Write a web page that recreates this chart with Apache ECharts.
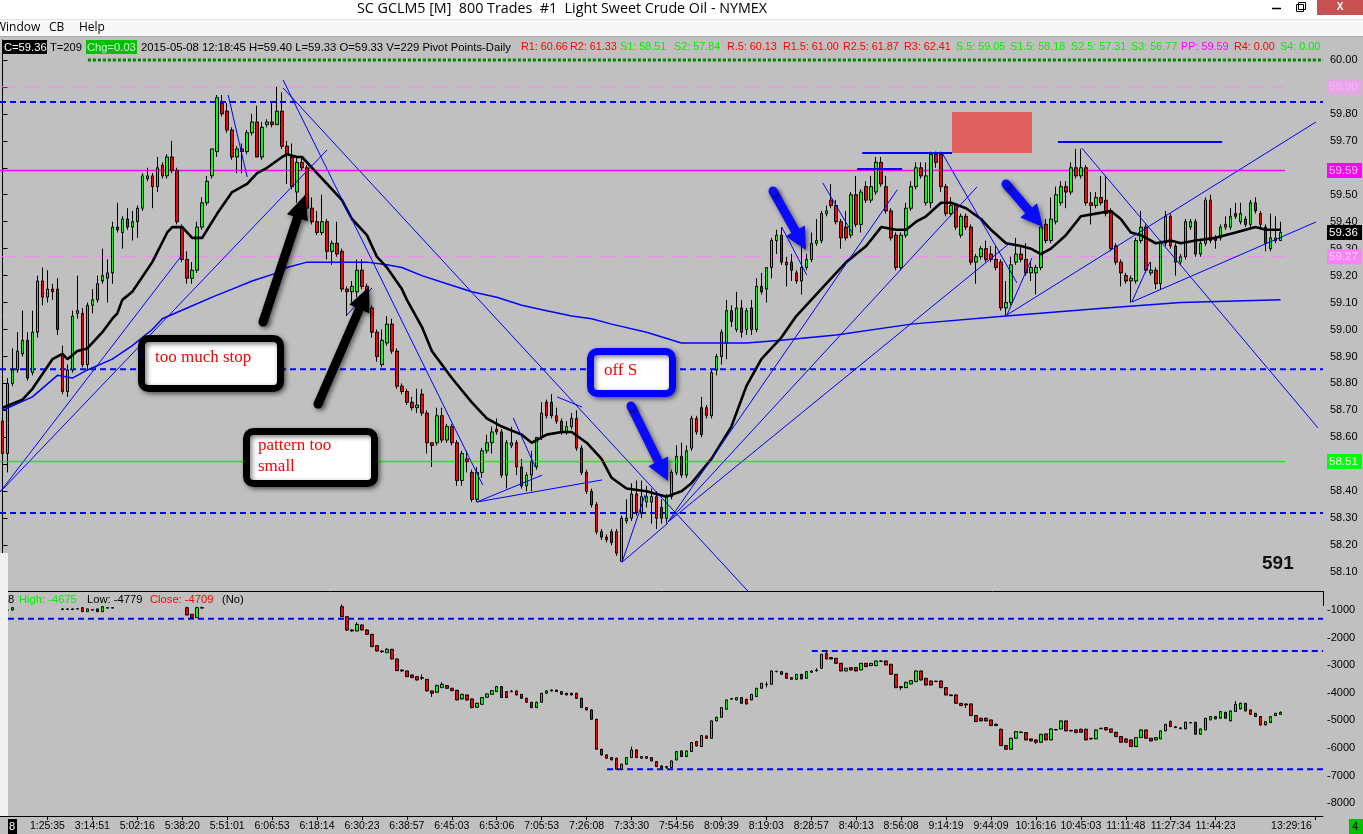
<!DOCTYPE html>
<html><head><meta charset="utf-8">
<script src="https://cdn.jsdelivr.net/npm/echarts@6/dist/echarts.min.js"></script>
<style>html,body{margin:0;padding:0;background:#c0c0c0;overflow:hidden}#c{width:1363px;height:834px}</style>
</head><body><div id="c"></div><script>
// ---------- DATA ----------
// price bars: [open, close, low, high], one per 800-trade bar
const priceBars = [
[58.66,58.54,58.47,58.68],[58.54,58.80,58.47,58.82],[58.80,58.85,58.79,58.93],[58.85,58.92,58.84,58.99],[58.91,58.96,58.90,59.07],
[58.96,58.82,58.81,58.99],[58.84,58.99,58.83,59.07],[58.99,59.18,58.97,59.20],[59.18,59.12,59.09,59.23],[59.12,59.15,59.10,59.22],
[59.15,59.14,59.11,59.17],[59.15,59.00,58.98,59.19],[58.91,58.77,58.76,58.94],[58.77,58.85,58.75,58.87],[58.85,59.05,58.84,59.07],
[59.06,59.07,59.04,59.20],[59.06,58.87,58.86,59.08],[58.87,59.09,58.85,59.10],[59.09,59.11,59.06,59.15],[59.11,59.17,59.10,59.20],
[59.18,59.20,59.17,59.30],[59.19,59.21,59.10,59.26],[59.21,59.38,59.17,59.40],[59.38,59.37,59.36,59.47],[59.36,59.41,59.30,59.42],
[59.41,59.38,59.37,59.45],[59.38,59.40,59.33,59.44],[59.40,59.45,59.34,59.46],[59.45,59.57,59.44,59.58],[59.56,59.57,59.55,59.60],
[59.57,59.53,59.45,59.58],[59.53,59.60,59.51,59.64],[59.61,59.57,59.56,59.62],[59.57,59.64,59.56,59.65],[59.64,59.59,59.58,59.70],
[59.59,59.40,59.39,59.60],[59.38,59.26,59.25,59.39],[59.26,59.19,59.17,59.29],[59.19,59.22,59.17,59.25],[59.22,59.38,59.21,59.40],
[59.38,59.47,59.37,59.49],[59.47,59.55,59.46,59.57],[59.57,59.67,59.56,59.67],[59.66,59.86,59.64,59.87],[59.84,59.80,59.79,59.87],
[59.81,59.74,59.73,59.84],[59.74,59.64,59.63,59.75],[59.64,59.67,59.58,59.68],[59.67,59.66,59.58,59.69],[59.66,59.73,59.65,59.74],
[59.73,59.77,59.72,59.80],[59.77,59.64,59.64,59.83],[59.64,59.75,59.63,59.77],[59.76,59.77,59.75,59.78],[59.77,59.76,59.75,59.84],
[59.76,59.81,59.76,59.90],[59.81,59.68,59.67,59.88],[59.68,59.65,59.54,59.70],[59.64,59.53,59.52,59.69],[59.51,59.62,59.47,59.64],
[59.62,59.60,59.59,59.64],[59.60,59.45,59.42,59.61],[59.45,59.40,59.39,59.49],[59.40,59.36,59.35,59.44],[59.36,59.40,59.35,59.50],
[59.40,59.29,59.26,59.41],[59.29,59.32,59.24,59.33],[59.32,59.28,59.27,59.40],[59.29,59.15,59.14,59.30],[59.15,59.14,59.05,59.16],
[59.14,59.16,59.10,59.18],[59.14,59.22,59.12,59.26],[59.22,59.16,59.15,59.26],[59.16,59.08,59.07,59.17],[59.08,58.99,58.97,59.09],
[58.99,58.90,58.88,59.00],[58.87,58.96,58.86,59.00],[58.95,59.02,58.94,59.05],[59.02,58.92,58.91,59.04],[58.92,58.79,58.78,58.93],
[58.79,58.77,58.76,58.80],[58.77,58.73,58.72,58.78],[58.73,58.71,58.70,58.75],[58.71,58.72,58.69,58.78],[58.76,58.69,58.68,58.78],
[58.69,58.58,58.54,58.70],[58.58,58.57,58.49,58.58],[58.58,58.68,58.57,58.71],[58.68,58.59,58.58,58.71],[58.59,58.64,58.58,58.65],
[58.64,58.58,58.57,58.65],[58.58,58.44,58.42,58.59],[58.44,58.54,58.42,58.55],[58.52,58.51,58.47,58.55],[58.47,58.37,58.36,58.48],
[58.37,58.47,58.36,58.49],[58.47,58.55,58.45,58.56],[58.55,58.58,58.54,58.61],[58.58,58.62,58.54,58.64],[58.63,58.62,58.61,58.67],
[58.62,58.46,58.45,58.63],[58.46,58.58,58.41,58.59],[58.57,58.58,58.56,58.64],[58.58,58.49,58.46,58.59],[58.49,58.42,58.41,58.52],
[58.42,58.46,58.40,58.47],[58.46,58.51,58.40,58.55],[58.49,58.60,58.48,58.60],[58.60,58.69,58.59,58.73],[58.73,58.68,58.67,58.74],
[58.73,58.68,58.67,58.76],[58.68,58.66,58.65,58.71],[58.66,58.62,58.61,58.67],[58.62,58.64,58.61,58.66],[58.64,58.67,58.63,58.69],
[58.67,58.56,58.55,58.70],[58.56,58.47,58.46,58.57],[58.47,58.40,58.39,58.48],[58.40,58.35,58.34,58.41],[58.35,58.25,58.24,58.36],
[58.25,58.23,58.22,58.26],[58.23,58.22,58.21,58.24],[58.25,58.21,58.20,58.26],[58.25,58.17,58.16,58.26],[58.14,58.30,58.14,58.31],
[58.29,58.30,58.28,58.37],[58.30,58.39,58.29,58.43],[58.39,58.32,58.31,58.44],[58.32,58.38,58.30,58.44],[58.36,58.38,58.34,58.42],
[58.36,58.38,58.28,58.41],[58.38,58.30,58.26,58.40],[58.34,58.30,58.28,58.37],[58.30,58.38,58.28,58.39],[58.38,58.47,58.37,58.48],
[58.47,58.53,58.46,58.57],[58.53,58.46,58.45,58.58],[58.46,58.55,58.45,58.57],[58.56,58.67,58.55,58.68],[58.67,58.62,58.61,58.68],
[58.71,58.61,58.60,58.75],[58.71,58.68,58.67,58.72],[58.68,58.84,58.67,58.85],[58.85,58.90,58.83,58.91],[58.90,58.99,58.87,59.00],
[58.95,59.07,58.89,59.11],[59.07,59.03,59.01,59.09],[59.00,59.08,58.99,59.14],[59.08,58.99,58.97,59.11],[59.00,59.07,58.98,59.08],
[59.08,59.00,58.98,59.11],[59.00,59.16,58.99,59.19],[59.16,59.14,59.13,59.21],[59.15,59.23,59.10,59.23],[59.23,59.33,59.19,59.34],
[59.33,59.35,59.28,59.37],[59.35,59.25,59.24,59.38],[59.25,59.24,59.16,59.27],[59.25,59.22,59.18,59.28],[59.21,59.18,59.17,59.22],
[59.18,59.23,59.13,59.34],[59.23,59.26,59.22,59.28],[59.26,59.32,59.25,59.36],[59.32,59.33,59.31,59.41],[59.33,59.43,59.32,59.44],
[59.43,59.44,59.42,59.46],[59.48,59.46,59.45,59.54],[59.46,59.40,59.39,59.48],[59.40,59.34,59.30,59.41],[59.38,59.34,59.33,59.44],
[59.35,59.50,59.34,59.51],[59.50,59.39,59.38,59.57],[59.39,59.51,59.36,59.52],[59.53,59.48,59.47,59.55],[59.48,59.53,59.47,59.57],
[59.51,59.62,59.50,59.64],[59.62,59.54,59.53,59.64],[59.53,59.44,59.43,59.57],[59.44,59.34,59.33,59.45],[59.35,59.23,59.22,59.36],
[59.23,59.35,59.22,59.36],[59.35,59.45,59.34,59.47],[59.45,59.53,59.44,59.55],[59.53,59.60,59.52,59.62],[59.60,59.57,59.56,59.62],
[59.47,59.57,59.46,59.62],[59.47,59.65,59.45,59.66],[59.65,59.62,59.60,59.66],[59.65,59.53,59.51,59.66],[59.53,59.43,59.42,59.54],
[59.43,59.46,59.42,59.49],[59.46,59.38,59.37,59.47],[59.35,59.42,59.34,59.43],[59.42,59.38,59.37,59.43],[59.38,59.25,59.24,59.39],
[59.25,59.27,59.17,59.28],[59.27,59.30,59.26,59.31],[59.30,59.26,59.25,59.33],[59.28,59.26,59.25,59.31],[59.26,59.23,59.22,59.31],
[59.25,59.08,59.07,59.26],[59.08,59.10,59.05,59.18],[59.10,59.24,59.09,59.27],[59.25,59.28,59.24,59.34],[59.28,59.26,59.25,59.31],
[59.26,59.21,59.20,59.32],[59.21,59.23,59.18,59.25],[59.21,59.23,59.13,59.24],[59.23,59.38,59.22,59.38],[59.39,59.33,59.32,59.41],
[59.33,59.41,59.32,59.49],[59.40,59.50,59.39,59.53],[59.47,59.53,59.46,59.55],[59.53,59.51,59.45,59.55],[59.51,59.60,59.50,59.62],
[59.60,59.57,59.56,59.67],[59.57,59.60,59.56,59.67],[59.60,59.47,59.46,59.61],[59.47,59.46,59.39,59.51],[59.46,59.49,59.45,59.51],
[59.49,59.47,59.46,59.57],[59.48,59.43,59.42,59.57],[59.44,59.30,59.29,59.45],[59.31,59.25,59.24,59.32],[59.25,59.21,59.16,59.26],
[59.20,59.18,59.17,59.21],[59.18,59.19,59.10,59.20],[59.18,59.33,59.17,59.34],[59.33,59.38,59.32,59.44],[59.38,59.22,59.21,59.39],
[59.21,59.22,59.20,59.25],[59.22,59.17,59.15,59.23],[59.17,59.32,59.15,59.33],[59.32,59.42,59.31,59.44],[59.42,59.31,59.30,59.43],
[59.31,59.25,59.20,59.32],[59.25,59.27,59.24,59.28],[59.27,59.40,59.26,59.41],[59.38,59.40,59.37,59.41],[59.40,59.28,59.27,59.41],
[59.28,59.32,59.27,59.33],[59.32,59.48,59.31,59.49],[59.48,59.33,59.32,59.50],[59.34,59.33,59.30,59.35],[59.34,59.38,59.33,59.39],
[59.38,59.39,59.37,59.42],[59.38,59.42,59.37,59.45],[59.43,59.42,59.41,59.47],[59.40,59.43,59.39,59.47],[59.41,59.39,59.38,59.42],
[59.39,59.47,59.38,59.48],[59.47,59.44,59.43,59.49],[59.43,59.39,59.38,59.44],[59.38,59.32,59.29,59.39],[59.30,59.34,59.29,59.43],
[59.33,59.34,59.32,59.42],[59.33,59.36,59.33,59.40]
];
// lower-panel indicator bars: [open, close, low, high]; null = off the visible scale
const flowBars = [
null,[-1000,-1000,-1300,-1000],[-1000,-916,-1010,-900],null,null,null,null,null,null,null,
null,null,[-960,-985,-990,-930],[-975,-960,-980,-950],[-960,-985,-990,-940],[-955,-965,-975,-940],[-916,-1060,-1070,-900],[-1060,-960,-1070,-950],[-990,-1005,-1010,-980],[-960,-1060,-1070,-950],
[-1060,-880,-1070,-860],[-930,-916,-935,-900],[-930,-916,-935,-900],null,null,null,null,null,null,null,
null,null,null,null,null,null,null,[-916,-1181,-1190,-880],[-1157,-1278,-1290,-1150],[-1278,-916,-1290,-880],
[-930,-916,-935,-880],null,null,null,null,null,null,null,null,null,
null,null,null,null,null,null,null,null,null,null,
null,null,null,null,null,null,null,null,[-880,-1241,-1250,-800],[-1241,-1724,-1760,-1230],
[-1724,-1760,-1780,-1700],[-1760,-1519,-1770,-1450],[-1543,-1724,-1740,-1520],[-1724,-1881,-1890,-1700],[-1881,-2328,-2340,-1870],[-2292,-2485,-2500,-2280],[-2485,-2509,-2560,-2470],[-2545,-2424,-2560,-2380],[-2424,-2774,-2790,-2410],[-2774,-3197,-3210,-2760],
[-3173,-3209,-3230,-3160],[-3209,-3414,-3430,-3200],[-3354,-3450,-3470,-3340],[-3414,-3535,-3550,-3400],[-3450,-3470,-3535,-3330],[-3511,-3933,-3950,-3500],[-3933,-4018,-4150,-3920],[-3981,-3740,-3990,-3700],[-3812,-3692,-3830,-3620],[-3740,-3836,-3850,-3720],
[-3836,-3921,-3940,-3820],[-3909,-4259,-4270,-3900],[-4223,-4054,-4240,-4040],[-4078,-4259,-4280,-4060],[-4223,-4537,-4560,-4210],[-4524,-4380,-4540,-4360],[-4416,-4174,-4430,-4150],[-4162,-4042,-4180,-4020],[-4054,-3921,-4070,-3900],[-3957,-3776,-3970,-3750],
[-3776,-4174,-4190,-3760],[-3957,-4174,-4190,-3940],[-3940,-3960,-3980,-3900],[-3933,-4078,-4090,-3920],[-4054,-4199,-4210,-4040],[-4199,-4343,-4360,-4180],[-4343,-4537,-4560,-4330],[-4537,-4343,-4550,-4320],[-4343,-4018,-4360,-4000],[-4018,-3933,-4030,-3900],
[-3900,-3933,-3950,-3880],[-3900,-3957,-3970,-3890],[-3957,-4054,-4070,-3940],[-4018,-4078,-4090,-4000],[-4018,-4078,-4090,-4000],[-4018,-4199,-4210,-4000],[-4199,-4537,-4550,-4180],[-4537,-4621,-4640,-4520],[-4621,-4959,-4970,-4600],[-4959,-6045,-6060,-4940],
[-6045,-6250,-6270,-6030],[-6250,-6371,-6390,-6230],[-6347,-6432,-6450,-6330],[-6371,-6770,-6780,-6350],[-6770,-6588,-6780,-6570],[-6588,-6347,-6600,-6330],[-6347,-6069,-6360,-5950],[-6069,-6347,-6360,-6050],[-6371,-6310,-6390,-6290],[-6310,-6371,-6390,-6290],
[-6347,-6468,-6480,-6330],[-6492,-6673,-6690,-6480],[-6649,-6733,-6750,-6630],[-6673,-6700,-6760,-6650],[-6709,-6468,-6720,-6450],[-6432,-6130,-6450,-6110],[-6106,-6311,-6320,-6090],[-6311,-6106,-6320,-6090],[-6130,-5804,-6140,-5790],[-5768,-5925,-5940,-5750],
[-5949,-5550,-5960,-5530],[-5562,-5647,-5660,-5550],[-5647,-5019,-5660,-5000],[-5019,-4887,-5030,-4870],[-4887,-4537,-4900,-4520],[-4597,-4259,-4610,-4240],[-4230,-4210,-4259,-4199],[-4259,-4174,-4270,-4160],[-4174,-4380,-4400,-4160],[-4235,-4404,-4420,-4220],
[-4259,-4054,-4270,-4040],[-4138,-3836,-4150,-3820],[-3836,-3655,-3850,-3640],[-3700,-3692,-3800,-3600],[-3692,-3209,-3700,-3190],[-3233,-3220,-3257,-3200],[-3233,-3330,-3340,-3220],[-3293,-3474,-3490,-3280],[-3450,-3511,-3520,-3440],[-3511,-3330,-3520,-3320],
[-3330,-3498,-3510,-3320],[-3474,-3233,-3490,-3220],[-3257,-3209,-3270,-3190],[-3200,-3180,-3233,-3112],[-3112,-2605,-3120,-2590],[-2569,-2774,-2790,-2450],[-2726,-2774,-2790,-2700],[-2750,-2931,-2940,-2740],[-2931,-3209,-3220,-2920],[-3209,-3112,-3220,-3100],
[-3088,-3173,-3190,-3070],[-3088,-3209,-3220,-3070],[-3173,-2931,-3180,-2920],[-2931,-3052,-3060,-2920],[-3016,-2931,-3030,-2920],[-3016,-2847,-3030,-2830],[-2860,-2850,-2871,-2830],[-2847,-2992,-3000,-2830],[-2968,-3330,-3340,-2950],[-3330,-3812,-3830,-3320],
[-3812,-3776,-3900,-3760],[-3812,-3619,-3830,-3600],[-3679,-3559,-3690,-3540],[-3595,-3209,-3600,-3190],[-3209,-3535,-3550,-3190],[-3474,-3716,-3730,-3460],[-3571,-3716,-3730,-3560],[-3580,-3595,-3610,-3560],[-3571,-3812,-3830,-3560],[-3812,-4078,-4090,-3800],
[-4078,-4102,-4120,-4060],[-4078,-4380,-4390,-4060],[-4380,-4464,-4480,-4370],[-4404,-4440,-4550,-4390],[-4404,-4826,-4840,-4390],[-4826,-5043,-5060,-4810],[-4923,-5019,-5030,-4900],[-4923,-5019,-5030,-4900],[-4983,-5188,-5200,-4970],[-5140,-5188,-5200,-5120],
[-5321,-5912,-5930,-5300],[-5912,-6045,-6060,-5900],[-6045,-5647,-6060,-5630],[-5647,-5406,-5660,-5390],[-5420,-5442,-5460,-5400],[-5442,-5707,-5720,-5430],[-5671,-5743,-5760,-5660],[-5707,-5792,-5850,-5690],[-5792,-5502,-5800,-5490],[-5490,-5707,-5720,-5480],
[-5707,-5309,-5720,-5290],[-5330,-5345,-5360,-5320],[-5309,-5019,-5320,-5000],[-5019,-5381,-5390,-5000],[-5360,-5381,-5400,-5350],[-5345,-5442,-5460,-5330],[-5321,-5430,-5440,-5300],[-5321,-5707,-5720,-5300],[-5650,-5671,-5690,-5640],[-5671,-5345,-5680,-5330],
[-5285,-5300,-5320,-5270],[-5260,-5345,-5360,-5250],[-5309,-5430,-5440,-5300],[-5430,-5587,-5600,-5420],[-5587,-5792,-5800,-5580],[-5671,-5792,-5800,-5660],[-5707,-5949,-5960,-5700],[-5949,-5623,-5960,-5610],[-5623,-5345,-5630,-5330],[-5345,-5647,-5660,-5340],
[-5647,-5743,-5760,-5640],[-5707,-5623,-5720,-5610],[-5671,-5381,-5680,-5370],[-5381,-5140,-5390,-5130],[-5043,-5225,-5240,-5000],[-5230,-5260,-5280,-5220],[-5270,-5300,-5320,-5260],[-5309,-5067,-5320,-5050],[-5080,-5090,-5104,-5067],[-5067,-5502,-5510,-5060],
[-5502,-5309,-5510,-5300],[-5345,-4923,-5350,-4910],[-4983,-4862,-4990,-4850],[-4862,-4947,-4960,-4850],[-4923,-4681,-4930,-4670],[-4705,-4923,-4930,-4690],[-5019,-4657,-5030,-4640],[-4681,-4416,-4690,-4300],[-4585,-4380,-4600,-4360],[-4380,-4657,-4670,-4370],
[-4621,-4778,-4790,-4610],[-4742,-4862,-4870,-4730],[-4862,-5164,-5180,-4850],[-5164,-5043,-5180,-5030],[-5080,-4862,-5090,-4850],[-4826,-4742,-4840,-4730],[-4779,-4709,-4779,-4675]
];
// moving averages: [bar index, price]
const fastMA = [[0,58.71],[4,58.74],[6,58.78],[10,58.89],[12,58.91],[13,58.89],[15,58.92],[17,58.93],[20,58.99],[22,59.04],[23,59.06],[24,59.11],[26,59.14],[30,59.25],[33,59.36],[34,59.38],[36,59.38],[38,59.34],[40,59.34],[41,59.37],[43,59.43],[46,59.51],[49,59.54],[51,59.58],[53,59.60],[56,59.64],[57,59.65],[59,59.64],[60,59.64],[62,59.60],[65,59.54],[68,59.48],[70,59.41],[73,59.35],[75,59.27],[77,59.23],[80,59.15],[81,59.11],[84,59.01],[86,58.92],[90,58.82],[94,58.73],[97,58.67],[100,58.64],[104,58.61],[106,58.58],[109,58.61],[112,58.62],[114,58.62],[117,58.58],[120,58.52],[122,58.45],[125,58.41],[129,58.40],[133,58.38],[136,58.40],[138,58.43],[142,58.52],[146,58.64],[149,58.79],[152,58.89],[156,58.97],[159,59.05],[162,59.11],[165,59.17],[169,59.25],[171,59.28],[173,59.31],[176,59.38],[179,59.37],[181,59.37],[183,59.40],[185,59.42],[188,59.47],[190,59.47],[193,59.45],[196,59.41],[198,59.37],[201,59.32],[204,59.31],[206,59.30],[208,59.28],[210,59.30],[213,59.35],[216,59.42],[219,59.43],[222,59.44],[224,59.41],[226,59.36],[228,59.35],[231,59.32],[234,59.33],[236,59.32],[239,59.33],[243,59.34],[247,59.36],[251,59.38],[253,59.37],[256,59.37]];
const slowMA = [[0,58.70],[6,58.75],[11,58.83],[14,58.82],[17,58.85],[22,58.89],[26,58.94],[30,59.00],[32,59.04],[37,59.08],[42,59.12],[46,59.15],[50,59.18],[55,59.21],[57,59.23],[61,59.25],[65,59.25],[69,59.25],[73,59.25],[77,59.24],[80,59.23],[84,59.20],[89,59.17],[94,59.14],[99,59.12],[104,59.09],[109,59.07],[114,59.05],[118,59.04],[122,59.02],[129,58.99],[136,58.95],[142,58.95],[149,58.95],[156,58.96],[167,58.98],[182,59.02],[201,59.05],[221,59.08],[236,59.10],[256,59.11]];
// hand-drawn trend lines: [[barIndex, price],[barIndex, price]]
const trendLines = [
[[-0.5,58.397],[35.95,59.276]],[[-0.5,58.397],[65.0,59.666]],[[45.2,59.870],[49.0,59.566]],
[[56.2,59.896],[149.3,58.030]],[[56.2,59.926],[96.2,58.423]],[[69.0,59.054],[74.0,59.154]],
[[102.3,58.672],[106.7,58.490]],[[95.0,58.360],[108.1,58.460]],[[95.0,58.360],[120.1,58.442]],
[[111.1,58.750],[116.1,58.712]],[[124.1,58.137],[128.7,58.386]],[[124.1,58.137],[133.3,58.282]],
[[133.3,58.286],[179.2,59.518]],[[133.3,58.286],[195.2,59.529]],[[133.3,58.286],[201.8,59.321]],
[[156.1,59.380],[161.1,59.202]],[[164.3,59.544],[170.2,59.358]],[[188.2,59.655],[203.2,59.173]],
[[216.2,59.673],[263.5,58.635]],[[201.2,59.054],[206.2,59.265]],[[201.2,59.054],[263.1,59.770]],
[[226.2,59.102],[263.1,59.399]],[[226.2,59.102],[229.8,59.250]]
];
const markerLines = [[[172.2,59.655],[190.2,59.655]],[[171.2,59.596],[180.2,59.596]],[[211.4,59.696],[244.3,59.696]]];
// horizontal levels
const roundLevel = 60.00, pivotLevel = 59.59, supportLevel = 58.51;
const pinkLevels = [59.90, 59.27];
const blueLevels = [59.844, 58.853, 58.319];
const flowLevels = [-1315, -2486, -6772];
// axis ticks / labels
const priceTicks = [58.1,58.2,58.3,58.4,58.5,58.6,58.7,58.8,58.9,59.0,59.1,59.2,59.3,59.4,59.5,59.6,59.7,59.8,59.9,60.0];
const flowTicks = [-1000,-2000,-3000,-4000,-5000,-6000,-7000,-8000];
const timeLabels = [[9,'1:25:35'],[18,'3:14:51'],[27,'5:02:16'],[36,'5:38:20'],[45,'5:51:01'],[54,'6:06:53'],[63,'6:18:14'],[72,'6:30:23'],[81,'6:38:57'],[90,'6:45:03'],[99,'6:53:06'],[108,'7:05:53'],[117,'7:26:08'],[126,'7:33:30'],[135,'7:54:56'],[144,'8:09:39'],[153,'8:19:03'],[162,'8:28:57'],[171,'8:40:13'],[180,'8:56:08'],[189,'9:14:19'],[198,'9:44:09'],[207,'10:16:16'],[216,'10:45:03'],[225,'11:11:48'],[234,'11:27:34'],[243,'11:44:23'],[263,'13:29:16']];
const pivotItems = [['R1: 60.66','r'],['R2: 61.33','r'],['S1: 58.51','g'],['S2: 57.84','g'],['R.5: 60.13','r'],['R1.5: 61.00','r'],['R2.5: 61.87','r'],['R3: 62.41','r'],['S.5: 59.05','g'],['S1.5: 58.18','g'],['S2.5: 57.31','g'],['S3: 56.77','g'],['PP: 59.59','m'],['R4: 0.00','r'],['S4: 0.00','g']];
const lastPrice = 59.36;

// ---------- CHART ----------
const SLOTS = 265;
const cats = Array.from({length: SLOTS}, (_, i) => 'b' + i);
const labelMap = {}; timeLabels.forEach(([i, t]) => labelMap[i] = t);
const lastLabelIdx = timeLabels[timeLabels.length - 1][0];
const FONT = '"Liberation Sans", Arial, sans-serif';
const UIFONT = '"Open Sans", "Noto Sans", sans-serif';
const toBar = a => a ? a : ['-','-','-','-'];
const XL = -0.5, XR = SLOTS - 0.5, XP = 256.9;

const chart = echarts.init(document.getElementById('c'), null, {renderer: 'canvas', width: 1363, height: 834});

function seg(xi, yi, pts, ls, z) {
  return {type: 'line', xAxisIndex: xi, yAxisIndex: yi, data: pts, symbol: 'none', silent: true, lineStyle: ls, z: z, animation: false};
}
const series = [];
series.push(seg(1, 0, [[17.1, roundLevel], [XR, roundLevel]], {color: '#008000', width: 3, type: [3, 2]}, 1));
pinkLevels.forEach(v => series.push(seg(1, 0, [[XL, v], [XP, v]], {color: '#ff80ff', width: 1, type: [16, 8]}, 1)));
blueLevels.forEach(v => series.push(seg(1, 0, [[XL, v], [XR, v]], {color: '#0000ff', width: 2, type: [6, 4]}, 1)));
series.push(seg(1, 0, [[XL, pivotLevel], [XP, pivotLevel]], {color: '#ff00ff', width: 1.5}, 1));
series.push(seg(1, 0, [[XL, supportLevel], [XP, supportLevel]], {color: '#00ff00', width: 1.5}, 1));
series.push(seg(3, 1, [[1.1, flowLevels[0]], [XR, flowLevels[0]]], {color: '#0000ff', width: 2, type: [6, 4]}, 1));
series.push(seg(3, 1, [[162.1, flowLevels[1]], [XR, flowLevels[1]]], {color: '#0000ff', width: 2, type: [6, 4]}, 1));
series.push(seg(3, 1, [[121.1, flowLevels[2]], [XR, flowLevels[2]]], {color: '#0000ff', width: 2, type: [6, 4]}, 1));
const candleStyle = {color: '#00ff00', color0: '#ff0000', borderColor: '#000', borderColor0: '#000', borderColorDoji: '#000', borderWidth: 1};
series.push({type: 'candlestick', xAxisIndex: 0, yAxisIndex: 0, data: priceBars, barWidth: 3, itemStyle: candleStyle, z: 3, clip: true, silent: true});
series.push({type: 'candlestick', xAxisIndex: 2, yAxisIndex: 1, data: flowBars.map(toBar), barWidth: 3, itemStyle: candleStyle, z: 3, clip: true, silent: true});
series.push(seg(1, 0, slowMA, {color: '#0000ff', width: 1.5}, 4));
series.push(seg(1, 0, fastMA, {color: '#000000', width: 2.6}, 5));
series.push({type: 'lines', coordinateSystem: 'cartesian2d', xAxisIndex: 1, yAxisIndex: 0, silent: true, z: 6,
  data: trendLines.map(c => ({coords: c})), lineStyle: {color: '#0000ff', width: 1, opacity: 1}});
series.push({type: 'lines', coordinateSystem: 'cartesian2d', xAxisIndex: 1, yAxisIndex: 0, silent: true, z: 6,
  data: markerLines.map(c => ({coords: c})), lineStyle: {color: '#0000ff', width: 2, opacity: 1}});

const option = {
  animation: false,
  backgroundColor: '#c0c0c0',
  grid: [
    {left: 0, right: 40, top: 40, height: 551},
    {left: 0, right: 40, top: 606, height: 210}
  ],
  xAxis: [
    {type: 'category', gridIndex: 0, data: cats, boundaryGap: true, axisLine: {show: true, lineStyle: {color: '#000', width: 1}}, axisTick: {show: false}, axisLabel: {show: false}, splitLine: {show: false}},
    {type: 'value', gridIndex: 0, min: XL, max: XR, show: false},
    {type: 'category', gridIndex: 1, data: cats, boundaryGap: true,
      axisLine: {show: true, lineStyle: {color: '#000', width: 1}},
      axisTick: {show: true, alignWithLabel: true, length: 4, interval: i => labelMap[i] !== undefined, lineStyle: {color: '#000'}},
      axisLabel: {interval: i => labelMap[i] !== undefined, color: '#000', fontSize: 10.5, fontFamily: FONT, margin: 5,
        formatter: (v, i) => i === lastLabelIdx ? '{s|' + labelMap[i] + '}' : (labelMap[i] || ''),
        rich: {s: {padding: [0, 48, 0, 0], color: '#000', fontSize: 10.5, fontFamily: FONT}}},
      splitLine: {show: false}},
    {type: 'value', gridIndex: 1, min: XL, max: XR, show: false}
  ],
  yAxis: [
    {type: 'value', gridIndex: 0, position: 'right', min: 58.03, max: 60.074, splitLine: {show: false},
      axisLine: {show: true, lineStyle: {color: '#000'}},
      axisTick: {show: true, length: 5, customValues: priceTicks, lineStyle: {color: '#000'}},
      axisLabel: {customValues: priceTicks, formatter: v => v.toFixed(2), color: '#000', fontSize: 11, fontFamily: FONT, margin: 7}},
    {type: 'value', gridIndex: 1, position: 'right', min: -8464, max: -855, splitLine: {show: false},
      axisLine: {show: true, lineStyle: {color: '#000'}},
      axisTick: {show: false},
      axisLabel: {customValues: flowTicks, formatter: v => String(v), color: '#000', fontSize: 11, fontFamily: FONT, margin: 4}}
  ],
  series: series
};
chart.setOption(option);

// ---------- OVERLAYS ----------
const py = v => chart.convertToPixel({yAxisIndex: 0}, v);
const Z = 100;
const G = [];
function txt(x, y, s, fill, size, font, extra) {
  return Object.assign({type: 'text', x: x, y: y, z: Z + 2, silent: true,
    style: {text: s, fill: fill, font: (size || 11) + 'px ' + (font || FONT), verticalAlign: 'middle', align: 'left'}}, extra || {});
}
function rect(x, y, w, h, fill, extra) {
  return Object.assign({type: 'rect', z: Z, silent: true, shape: {x: x, y: y, width: w, height: h}, style: {fill: fill}}, extra || {});
}
// window chrome
G.push(rect(0, 0, 1363, 19, '#ffffff'));
G.push(rect(0, 19, 1363, 18, '#f7f7f7'));
G.push({type: 'line', z: Z + 1, silent: true, shape: {x1: 0, y1: 19.5, x2: 1363, y2: 19.5}, style: {stroke: '#e3e3e3', lineWidth: 1}});
G.push({type: 'line', z: Z + 1, silent: true, shape: {x1: 0, y1: 36.5, x2: 1363, y2: 36.5}, style: {stroke: '#a8a8a8', lineWidth: 1}});
G.push(txt(357, 9, 'SC GCLM5 [M]  800 Trades  #1  Light Sweet Crude Oil - NYMEX', '#000', 14.3, UIFONT));
G.push(txt(-5, 28, 'Window', '#000', 12, UIFONT));
G.push(txt(49, 28, 'CB', '#000', 12, UIFONT));
G.push(txt(79, 28, 'Help', '#000', 12, UIFONT));
G.push({type: 'line', z: Z + 1, silent: true, shape: {x1: 1272, y1: 8.5, x2: 1281, y2: 8.5}, style: {stroke: '#000', lineWidth: 1.5}});
G.push(rect(1296.5, 4.5, 7, 7, 'none', {z: Z + 1, style: {fill: 'none', stroke: '#000', lineWidth: 1}}));
G.push(rect(1298.5, 2.5, 7, 7, 'none', {z: Z + 1, style: {fill: 'none', stroke: '#000', lineWidth: 1}}));
G.push(rect(1317, 0, 46, 15, '#c75050', {z: Z + 1}));
G.push({type: 'text', x: 1340, y: 7, z: Z + 2, silent: true, style: {text: 'X', fill: '#ffffff', font: 'bold 10px ' + FONT, align: 'center', verticalAlign: 'middle'}});
// info bar
G.push(rect(3, 40, 44, 14, '#000000'));
G.push(txt(4, 47.5, 'C=59.36', '#ffffff', 11.2));
G.push(txt(50, 47.5, 'T=209', '#000', 11.2));
G.push(rect(86, 40, 51, 14, '#00c000'));
G.push(txt(87, 47.5, 'Chg=0.03', '#c8ffc8', 11.2));
G.push(txt(141, 47.5, '2015-05-08 12:18:45 H=59.40 L=59.33 O=59.33 V=229 Pivot Points-Daily', '#000', 11.3));
const pivotX = [521, 570, 620, 674, 727, 783, 843, 904, 956, 1010, 1071, 1131, 1181, 1234, 1280];
const pcol = {r: '#ff0000', g: '#00f000', m: '#ff00ff'};
pivotItems.forEach(([s, c], k) => G.push(txt(pivotX[k], 47.5, s, pcol[c], 10.8)));
// price-axis tags
function tag(v, text, bg, fg) {
  const y = py(v);
  G.push(rect(1327, y - 7.5, 35, 15, bg, {z: Z + 3}));
  G.push(txt(1329, y, text, fg, 11.5, FONT, {z: Z + 4}));
}
tag(pinkLevels[0], '59.90', '#e6a6e6', '#ffb0ff');
tag(pivotLevel, '59.59', '#ff00ff', '#ffc8ff');
tag(lastPrice, '59.36', '#000000', '#ffffff');
tag(pinkLevels[1], '59.27', '#ff80ff', '#ffd0ff');
tag(supportLevel, '58.51', '#00ff00', '#ffffff');
G.push({type: 'line', z: Z, silent: true, shape: {x1: 1323.5, y1: 591, x2: 1323.5, y2: 606}, style: {stroke: '#000', lineWidth: 1}});
// lower panel legend
G.push(rect(0, 553, 8, 263, '#f0f0f0', {z: Z - 1}));
G.push(txt(8, 600, '8', '#000', 11.2));
G.push(txt(19, 600, 'High: -4675', '#00f000', 11.2));
G.push(txt(87, 600, 'Low: -4779', '#000', 11.2));
G.push(txt(150, 600, 'Close: -4709', '#ff0000', 11.2));
G.push(txt(222, 600, '(No)', '#000', 11.2));
// corner tags
G.push(rect(8, 819, 9, 15, '#000000'));
G.push(txt(9, 827, '8', '#ffffff', 11.2));
G.push(rect(1349, 819, 14, 15, '#00c000'));
G.push(txt(1352, 827, '4', '#000000', 11.2));
// annotations: red box, "591"
G.push(rect(952, 112, 80, 41, '#e06060', {z: Z - 5}));
G.push({type: 'text', x: 1262, y: 564, z: Z, silent: true, style: {text: '591', fill: '#111', font: 'bold 19px ' + FONT, verticalAlign: 'middle'}});
// arrows
function arrow(x1, y1, x2, y2, w, hw, hl, fill) {
  const dx = x2 - x1, dy = y2 - y1, L = Math.hypot(dx, dy), ux = dx / L, uy = dy / L, px = -uy, py2 = ux;
  const bx = x2 - ux * hl, by = y2 - uy * hl;
  const pts = [[x1 + px * w / 2, y1 + py2 * w / 2], [bx + px * w / 2, by + py2 * w / 2], [bx + px * hw / 2, by + py2 * hw / 2], [x2, y2],
    [bx - px * hw / 2, by - py2 * hw / 2], [bx - px * w / 2, by - py2 * w / 2], [x1 - px * w / 2, y1 - py2 * w / 2]];
  const sh = {shadowBlur: 5, shadowColor: 'rgba(0,0,0,0.55)', shadowOffsetX: 2, shadowOffsetY: 2};
  G.push({type: 'polygon', z: Z - 2, silent: true, shape: {points: pts}, style: Object.assign({fill: fill}, sh)});
  G.push({type: 'circle', z: Z - 2, silent: true, shape: {cx: x1, cy: y1, r: w / 2}, style: Object.assign({fill: fill}, sh)});
}
arrow(263, 322, 305, 195, 9, 22, 24, '#000000');
arrow(318, 404, 369, 287, 9, 22, 24, '#000000');
arrow(631, 406, 668, 481, 9, 22, 22, '#0a0aff');
arrow(773, 191, 806, 250, 9, 22, 22, '#0a0aff');
arrow(1006, 184, 1043, 227, 9, 22, 22, '#0a0aff');
// note boxes
function note(x, y, w, h, stroke, lines) {
  G.push({type: 'rect', z: Z - 1, silent: true, shape: {x: x, y: y, width: w, height: h, r: 7},
    style: {fill: '#ffffff', stroke: stroke, lineWidth: 7, shadowBlur: 5, shadowColor: 'rgba(0,0,0,0.5)', shadowOffsetX: 2, shadowOffsetY: 2}});
  lines.forEach(([tx, ty, s]) => G.push({type: 'text', z: Z, silent: true, x: tx, y: ty,
    style: {text: s, fill: '#ff0000', font: '17px "Liberation Serif", "Times New Roman", serif', verticalAlign: 'middle'}}));
}
note(141.5, 338.5, 139, 50, '#000000', [[155, 358, 'too much stop']]);
note(246.5, 431.5, 128, 52, '#000000', [[258, 446, 'pattern too'], [258, 467, 'small']]);
note(590.5, 351.5, 82, 42, '#0000ff', [[604, 371, 'off S']]);

chart.setOption({graphic: G});
</script></body></html>
